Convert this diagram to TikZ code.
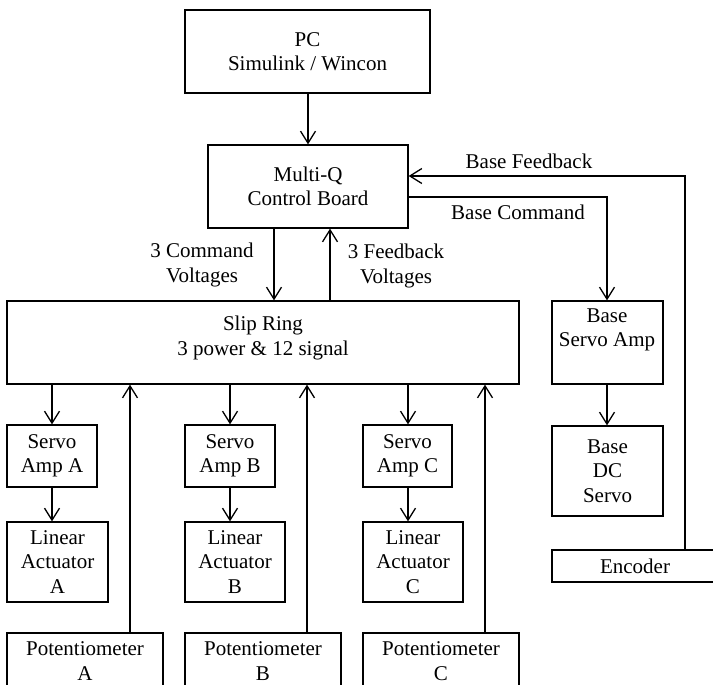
\documentclass[tikz,border=0pt]{standalone}
\usepackage{fontspec}
\setmainfont{Liberation Serif}
\usetikzlibrary{arrows.meta,calc}
\begin{document}
\begin{tikzpicture}[x=1pt,y=-1pt,
  every node/.style={font=\fontsize{21}{24.5}\selectfont, align=center, inner sep=0pt},
  box/.style={draw, line width=1.3pt},
  arr/.style={line width=1.3pt, -{Straight Barb[length=12pt,width=15pt,line width=1.3pt]}},
  ln/.style={line width=1.3pt}]
\useasboundingbox (0,0) rectangle (713,685);
\clip (0,0) rectangle (713,685);
% boxes: given by corners
\newcommand{\bx}[6]{\node[box, minimum width={#4-#2}, minimum height={#5-#3}] (#1) at ({(#2+#4)/2},{(#3+#5)/2}) {#6};}
\bx{PCb}{185}{10}{430}{93}{PC\\Simulink / Wincon}
\bx{MQ}{208}{145}{408}{228}{Multi-Q\\Control Board}
\bx{Slip}{7}{301}{519}{384}{}
\node (sliptxt) at (263,338) {Slip Ring\\3 power \& 12 signal};
\bx{BSA}{552}{301}{663}{384}{}
\node (bsatxt) at (607,330) {Base\\Servo Amp};
\bx{BDC}{552}{426}{663}{516}{Base\\DC\\Servo}
\bx{Enc}{552}{550}{718}{582}{Encoder}
\bx{SAA}{7}{425}{97}{487}{Servo\\Amp A}
\bx{LAA}{7}{522}{108}{602}{Linear\\Actuator\\A}
\bx{PA}{7}{633}{163}{689}{Potentiometer\\A}
\bx{SAB}{185}{425}{275}{487}{Servo\\Amp B}
\bx{LAB}{185}{522}{285}{602}{Linear\\Actuator\\B}
\bx{PB}{185}{633}{341}{689}{Potentiometer\\B}
\bx{SAC}{363}{425}{452}{487}{Servo\\Amp C}
\bx{LAC}{363}{522}{463}{602}{Linear\\Actuator\\C}
\bx{PCc}{363}{633}{519}{689}{Potentiometer\\C}
% x positions of connectors
\coordinate (xpc) at (308,0);
\coordinate (xcmd) at (274,0);
\coordinate (xfb) at (330,0);
\coordinate (xa) at (52,0);
\coordinate (xb) at (230,0);
\coordinate (xc) at (408,0);
\coordinate (xpa) at (130,0);
\coordinate (xpb) at (307,0);
\coordinate (xpcc) at (485,0);
\coordinate (xbase) at (607,0);
\coordinate (xenc) at (685,0);
\coordinate (yfb) at (0,176);
\coordinate (ycmd) at (0,197);
% connectors
\draw[arr] (PCb.south -| xpc) -- (MQ.north -| xpc);
\draw[arr] (MQ.south -| xcmd) -- (Slip.north -| xcmd);
\draw[arr] (Slip.north -| xfb) -- (MQ.south -| xfb);
\draw[arr] (Enc.north -| xenc) -- (xenc |- yfb) -- (MQ.east |- yfb);
\draw[arr] (MQ.east |- ycmd) -- (xbase |- ycmd) -- (BSA.north -| xbase);
\draw[arr] (BSA.south -| xbase) -- (BDC.north -| xbase);
\draw[arr] (Slip.south -| xa) -- (SAA.north -| xa);
\draw[arr] (SAA.south -| xa) -- (LAA.north -| xa);
\draw[arr] (PA.north -| xpa) -- (Slip.south -| xpa);
\draw[arr] (Slip.south -| xb) -- (SAB.north -| xb);
\draw[arr] (SAB.south -| xb) -- (LAB.north -| xb);
\draw[arr] (PB.north -| xpb) -- (Slip.south -| xpb);
\draw[arr] (Slip.south -| xc) -- (SAC.north -| xc);
\draw[arr] (SAC.south -| xc) -- (LAC.north -| xc);
\draw[arr] (PCc.north -| xpcc) -- (Slip.south -| xpcc);
% labels
\node (lfb) at (529,161) {Base Feedback};
\node (lcmd) at (518,212) {Base Command};
\node (l3c) at (202,265) {3 Command\\Voltages};
\node (l3f) at (396,266) {3 Feedback\\Voltages};
\end{tikzpicture}
\end{document}
